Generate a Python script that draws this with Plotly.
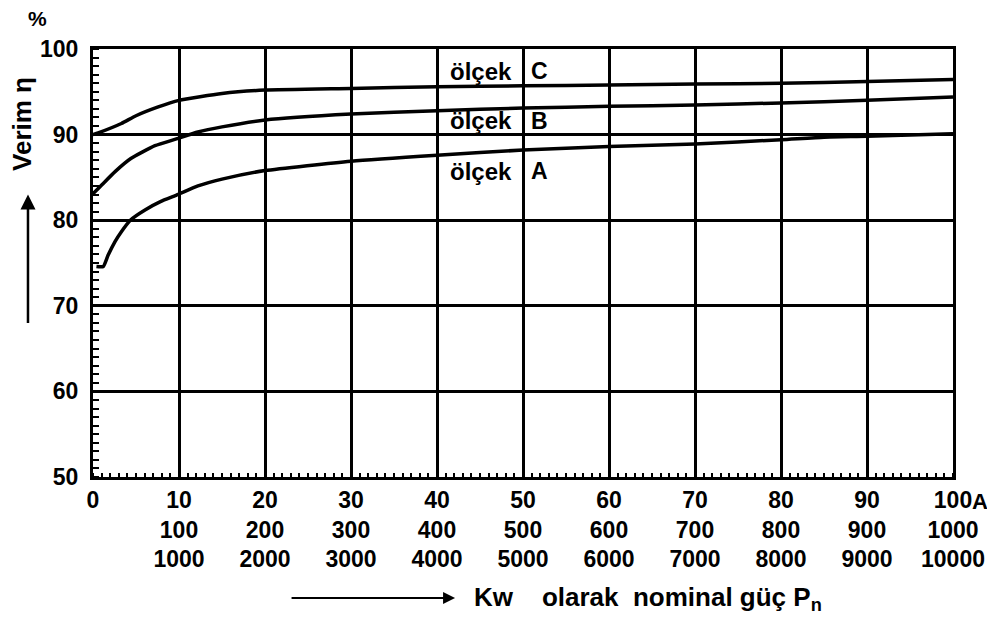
import plotly.graph_objects as go

# Curve data (x: load, y: efficiency %)
x_C = [0, 0.6, 3.3, 5, 7.5, 10, 15, 20, 30, 40, 50, 60, 70, 80, 90, 100]
y_C = [90.0, 90.2, 91.3, 92.2, 93.2, 94.0, 94.8, 95.2, 95.4, 95.6, 95.7, 95.8, 95.9, 96.0, 96.2, 96.45]

x_B = [0, 0.9, 2.6, 4.4, 7.2, 9.7, 12.2, 15, 20, 30, 40, 50, 60, 70, 80, 90, 100]
y_B = [83.1, 84.0, 85.7, 87.2, 88.7, 89.5, 90.3, 90.9, 91.7, 92.4, 92.8, 93.1, 93.3, 93.45, 93.7, 94.0, 94.4]

x_A = [0.4, 1.2, 1.75, 2.56, 3.26, 4.4, 6.05, 7.9, 9.65, 12.2, 15, 20, 30, 40, 50, 60, 70, 80, 85, 90, 100]
y_A = [74.6, 74.6, 75.9, 77.5, 78.6, 80.05, 81.2, 82.2, 82.9, 84.0, 84.8, 85.8, 86.9, 87.6, 88.2, 88.6, 88.9, 89.4, 89.7, 89.8, 90.1]

x_tickvals = [0, 10, 20, 30, 40, 50, 60, 70, 80, 90, 100]
x_row1 = ["0", "10", "20", "30", "40", "50", "60", "70", "80", "90", "100"]
x_row2 = ["", "100", "200", "300", "400", "500", "600", "700", "800", "900", "1000"]
x_row3 = ["", "1000", "2000", "3000", "4000", "5000", "6000", "7000", "8000", "9000", "10000"]
y_tickvals = [50, 60, 70, 80, 90, 100]

curve_names = ["ölçek C", "ölçek B", "ölçek A"]
curve_letters = ["C", "B", "A"]
label_y = [97.4, 91.6, 85.7]

FONT = "Liberation Sans"
ticktext = []
for a, b, c in zip(x_row1, x_row2, x_row3):
    lines = [a] + ([b, c] if b else [])
    ticktext.append("<br>".join(lines))

fig = go.Figure()
for xs, ys in [(x_C, y_C), (x_B, y_B), (x_A, y_A)]:
    fig.add_trace(go.Scatter(x=xs, y=ys, mode="lines",
                             line=dict(color="black", width=3.5, shape="spline", smoothing=0.5),
                             showlegend=False, hoverinfo="skip"))

# curve labels
for name, letter, yv in zip(curve_names, curve_letters, label_y):
    word = name.replace(" " + letter, "")
    fig.add_annotation(x=49.0, y=yv, xref="x", yref="y", text="<b>" + word + "</b>", showarrow=False,
                       xanchor="right", yanchor="middle",
                       font=dict(family=FONT, size=24, color="black"))
    fig.add_annotation(x=50.7, y=yv, xref="x", yref="y", text="<b>" + letter + "</b>", showarrow=False,
                       xanchor="left", yanchor="middle",
                       font=dict(family=FONT, size=23, color="black"))

# unit label for x ticks
fig.add_annotation(x=1.0, y=0, xref="paper", yref="paper", text="<b>A</b>", showarrow=False,
                   xanchor="left", yanchor="top", xshift=17, yshift=-10,
                   font=dict(family=FONT, size=22, color="black"))

# y axis title + arrow
fig.add_annotation(x=-0.082, y=0.826, xref="paper", yref="paper", text="<b>Verim η</b>",
                   textangle=-90, showarrow=False, xanchor="center", yanchor="middle",
                   font=dict(family=FONT, size=26, color="black"))
fig.add_annotation(x=-0.064, y=1.072, xref="paper", yref="paper", text="<b>%</b>",
                   showarrow=False, xanchor="center", yanchor="middle",
                   font=dict(family=FONT, size=21, color="black"))
fig.add_annotation(x=-0.0756, y=0.66, xref="paper", yref="paper", text="",
                   showarrow=True, ax=0, ay=130, arrowhead=2, arrowsize=1.2,
                   arrowwidth=2.5, arrowcolor="black")

# x axis title + arrow
fig.add_annotation(x=0.421, y=-0.283, xref="paper", yref="paper", text="",
                   showarrow=True, ax=-165, ay=0, arrowhead=2, arrowsize=1.2,
                   arrowwidth=2, arrowcolor="black")
fig.add_annotation(x=0.441, y=-0.283, xref="paper", yref="paper",
                   text="<b>Kw&nbsp;&nbsp;&nbsp;&nbsp;olarak&nbsp; nominal&nbsp;güç&nbsp;P<sub>n</sub></b>",
                   showarrow=False, xanchor="left", yanchor="middle",
                   font=dict(family=FONT, size=26, color="black"))

fig.update_xaxes(range=[0, 100], tickvals=x_tickvals, ticktext=["<b>" + t + "</b>" for t in ticktext],
                 showgrid=True, gridcolor="black", gridwidth=2.5,
                 showline=True, linecolor="black", linewidth=3, mirror=True,
                 ticks="", zeroline=False, automargin=False,
                 tickfont=dict(family=FONT, size=23, color="black"),
                 minor=dict(dtick=1, ticks="inside", ticklen=4, tickcolor="black", tickwidth=1.5,
                            showgrid=False))
fig.update_yaxes(range=[50, 100], tickvals=y_tickvals,
                 ticktext=["<b>%d</b>" % v for v in y_tickvals],
                 showgrid=True, gridcolor="black", gridwidth=2.5,
                 showline=True, linecolor="black", linewidth=3, mirror=True,
                 ticks="", zeroline=False, automargin=False, ticklabelstandoff=7,
                 tickfont=dict(family=FONT, size=23, color="black"),
                 minor=dict(dtick=1, ticks="inside", ticklen=6, tickcolor="black", tickwidth=1.5,
                            showgrid=False))

fig.update_layout(width=987, height=606, plot_bgcolor="white", paper_bgcolor="white",
                  margin=dict(l=85, r=42, t=41, b=137), autosize=False)

fig.write_html("out.html")
